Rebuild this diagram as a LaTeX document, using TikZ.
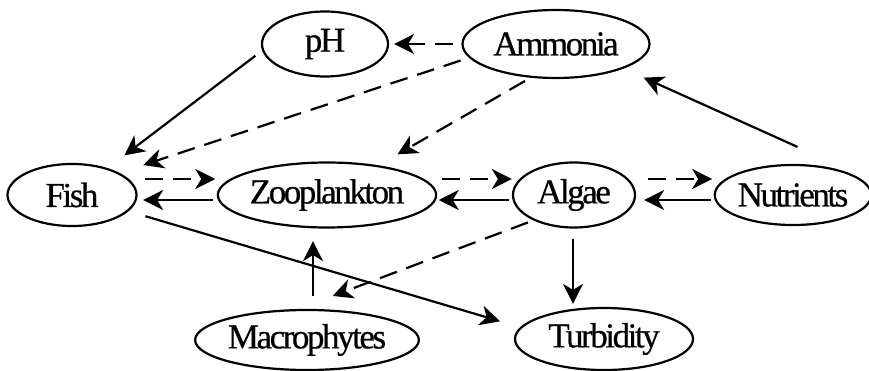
\documentclass[tikz,border=0pt]{standalone}
\usepackage{fontspec}
\setmainfont{Liberation Serif}[LetterSpace=-7,FakeBold=0.6]
\usetikzlibrary{arrows.meta,shapes.geometric}

\begin{document}
\begin{tikzpicture}[x=1pt,y=-1pt,>={Stealth[length=20pt,width=20pt,inset=6pt]},
  var/.style={ellipse,draw,line width=2.2pt,inner sep=0pt,font=\fontsize{35}{38}\selectfont},
  effect/.style={->,line width=2.2pt},
  weak/.style={effect,dash pattern=on 18pt off 10pt}]
  \useasboundingbox (0,0) rectangle (869,371);
  \node[var,minimum width=126pt,minimum height=65pt] (ph) at (325,44) {pH};
  \node[var,minimum width=187pt,minimum height=68pt] (amm) at (556,44) {Ammonia};
  \node[var,minimum width=129pt,minimum height=62pt] (fish) at (72,195) {Fish};
  \node[var,minimum width=217pt,minimum height=65pt] (zoo) at (327,195) {Zooplankton};
  \node[var,minimum width=122pt,minimum height=65pt] (alg) at (574,195) {Algae};
  \node[var,minimum width=147pt,minimum height=60pt] (nut) at (793,195) {Nutrients};
  \node[var,minimum width=223pt,minimum height=60pt] (mac) at (307,340) {Macrophytes};
  \node[var,minimum width=178pt,minimum height=62pt] (tur) at (604,339) {Turbidity};
  % top row
  \draw[effect, shorten <=8.5pt, shorten >=21pt] (ph.186.5) -- (fish.37);
  \draw[weak, shorten <=8pt, shorten >=5pt] (amm.west) -- (ph.east);
  \draw[weak, shorten <=8.7pt, shorten >=25pt] (amm.189.8) -- (fish.25.9);
  \draw[weak, shorten <=6.4pt, shorten >=22pt] (amm.233.6) -- (zoo.30.5);
  \draw[effect, shorten <=17pt, shorten >=22pt] ([xshift=20pt,yshift=10pt]nut.north) -- (amm.-20);
  % middle row
  \draw[weak, shorten <=7.5pt, shorten >=1.5pt] ([yshift=16pt]fish.east) -- ([yshift=16pt]zoo.west);
  \draw[effect, shorten <=3.5pt, shorten >=5.5pt] ([yshift=-5pt]zoo.west) -- ([yshift=-5pt]fish.east);
  \draw[weak, shorten <=4.5pt, shorten >=0pt] ([yshift=16pt]zoo.east) -- ([yshift=16pt]alg.west);
  \draw[effect, shorten <=3pt, shorten >=1.5pt] ([yshift=-5pt]alg.west) -- ([yshift=-5pt]zoo.east);
  \draw[weak, shorten <=12pt, shorten >=1.5pt] ([yshift=16pt]alg.east) -- ([yshift=16pt]nut.west);
  \draw[effect, shorten <=2.5pt, shorten >=8pt] ([yshift=-5pt]nut.west) -- ([yshift=-5pt]alg.east);
  % bottom row
  \draw[weak, shorten <=5.8pt, shorten >=37pt] (alg.212.5) -- (mac.106);
  \draw[effect, shorten <=13pt, shorten >=12.5pt] ([xshift=6pt]mac.north) -- ([xshift=-14pt]zoo.south);
  \draw[effect, shorten <=17.6pt, shorten >=21pt] (fish.-16.3) -- (tur.172.3);
  \draw[effect, shorten <=10.5pt, shorten >=3pt] ([xshift=-1pt]alg.south) -- ([xshift=-31pt]tur.north);
\end{tikzpicture}
\end{document}
